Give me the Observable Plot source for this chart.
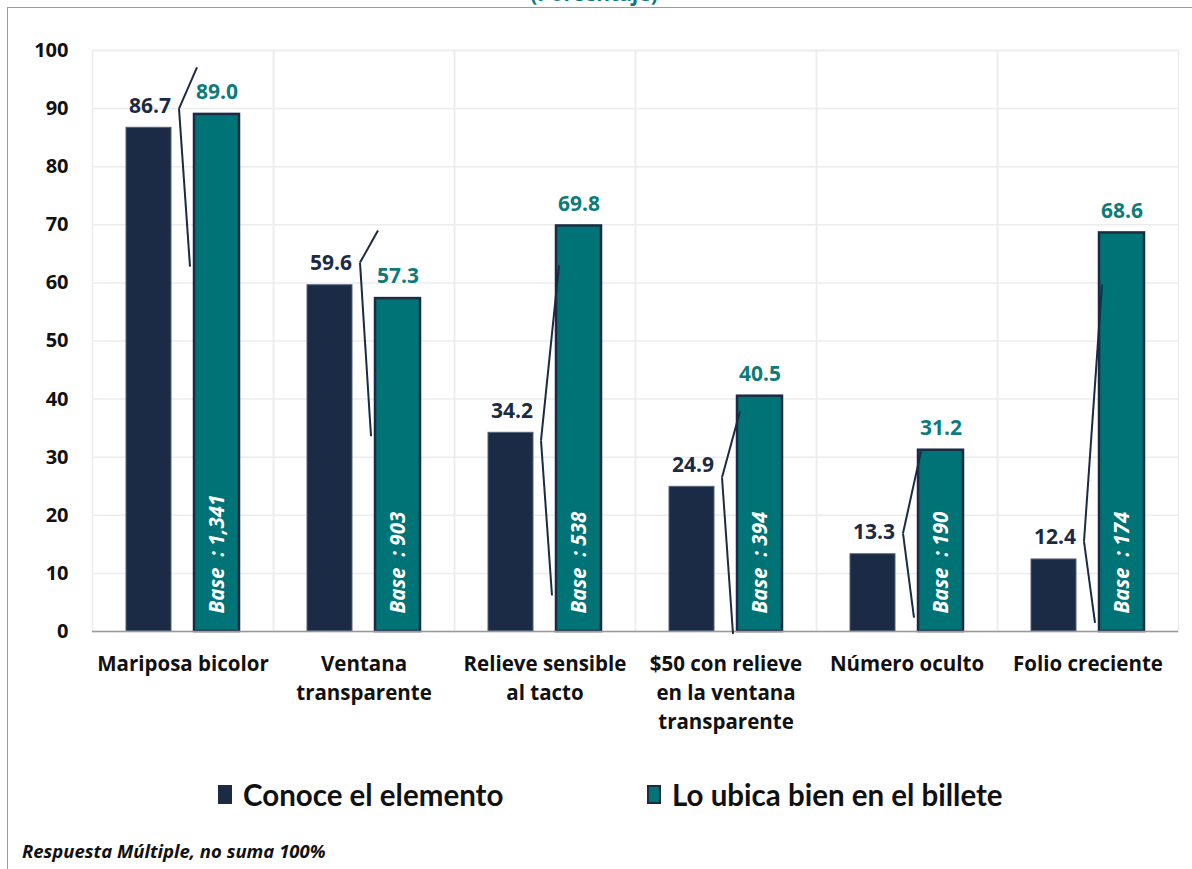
<!DOCTYPE html>
<html>
<head>
<meta charset="utf-8">
<script src="https://cdn.jsdelivr.net/npm/d3@7"></script>
<script src="https://cdn.jsdelivr.net/npm/@observablehq/plot@0.6"></script>
<style>
  html, body { margin: 0; padding: 0; background: #fff; }
  body { width: 1192px; height: 869px; position: relative; overflow: hidden; }
  #frame { position: absolute; left: 7px; top: 7px; width: 1200px; height: 900px; border: 1px solid #9a9a9a; }
  #title { position: absolute; left: 0; width: 1188px; top: -18px; text-align: center;
    font: bold 21px/22px "Open Sans", sans-serif; color: #0e7b7b; }
  #chart { position: absolute; left: 0; top: 0; }
  #legend { position: absolute; left: 0; top: 777px; width: 1192px; height: 40px;
    font: bold 29.5px "Lato", sans-serif; color: #111; }
  .item { position: absolute; top: 0; display: flex; align-items: center; white-space: nowrap; }
  .sw { width: 14px; height: 19px; margin-right: 11px; }
  #caption { position: absolute; left: 22px; top: 838px; font: italic bold 18.5px "Open Sans", sans-serif; color: #111; }
</style>
</head>
<body>
<div id="frame"></div>
<div id="title">(Porcentaje)</div>
<div id="chart"></div>
<div id="legend"></div>
<div id="caption">Respuesta Múltiple, no suma 100%</div>
<script>
const categories = ["Mariposa bicolor", "Ventana\ntransparente", "Relieve sensible\nal tacto", "$50 con relieve\nen la ventana\ntransparente", "Número oculto", "Folio creciente"];
const seriesNames = ["Conoce el elemento", "Lo ubica bien en el billete"];
const conoce = [86.7, 59.6, 34.2, 24.9, 13.3, 12.4];
const ubica = [89.0, 57.3, 69.8, 40.5, 31.2, 68.6];
const bases = ["1,341", "903", "538", "394", "190", "174"];
// leader lines of the "Conoce" labels
const leaderApex = [90.0, 63.5, 32.9, 26.5, 16.9, 15.5];
const leaderTop = [97.1, 69.0, 63.0, 37.9, 31.0, 59.7];
const leaderBottom = [62.8, 33.6, 6.2, -0.4, 2.4, 1.5];
const yTicks = [0, 10, 20, 30, 40, 50, 60, 70, 80, 90, 100];

const navy = "#1b2b45";
const teal = "#007377";
const tealText = "#0e7b7b";

const data = [];
categories.forEach((c, i) => {
  data.push({cat: c, series: seriesNames[0], value: conoce[i], apex: leaderApex[i], top: leaderTop[i], bottom: leaderBottom[i]});
  data.push({cat: c, series: seriesNames[1], value: ubica[i], base: bases[i]});
});
const dC = data.filter(d => d.series === seriesNames[0]);
const dL = data.filter(d => d.series === seriesNames[1]);

function offsetCurve(k) {
  return (context) => {
    let i = 0;
    return {
      areaStart() {}, areaEnd() {},
      lineStart() { i = 0; },
      lineEnd() {},
      point(x, y) { if (i++ === 0) context.moveTo(x, y); else context.lineTo(x + k, y); }
    };
  };
}

const font = "'Open Sans', sans-serif";

const plot = Plot.plot({
  width: 1192,
  height: 740,
  marginTop: 50,
  marginBottom: 109,
  marginLeft: 92,
  marginRight: 14,
  style: {background: "transparent"},
  fx: {domain: categories, paddingInner: 0, paddingOuter: 0, label: null},
  x: {domain: seriesNames, paddingInner: 0.336, paddingOuter: 0.489, axis: null},
  y: {domain: [0, 100], label: null},
  marks: [
    Plot.ruleY(yTicks, {stroke: "#ececec", strokeWidth: 1.5}),
    Plot.frame({stroke: "#ececec", strokeWidth: 1.5}),
    Plot.barY(dC, {fx: "cat", x: "series", y: "value", fill: navy, stroke: "#55637a", strokeWidth: 1}),
    Plot.barY(dL, {fx: "cat", x: "series", y: "value", fill: teal, stroke: navy, strokeWidth: 2.5}),
    Plot.ruleY([0], {stroke: "#9a9a9a", strokeWidth: 1.5}),
    Plot.text(dC, {fx: "cat", x: "series", y: "value", text: d => d.value.toFixed(1), dx: 1, dy: -22, lineAnchor: "middle",
      fill: navy, fontWeight: "bold", fontSize: 21, fontFamily: font}),
    Plot.text(dL, {fx: "cat", x: "series", y: "value", text: d => d.value.toFixed(1), dy: -22, lineAnchor: "middle",
      fill: tealText, fontWeight: "bold", fontSize: 21, fontFamily: font}),
    Plot.text(dL, {fx: "cat", x: "series", y: 0, text: d => `Base\u00a0\u00a0: ${d.base}`, rotate: -90, textAnchor: "start",
      lineAnchor: "middle", dy: -18, fill: "white", fontStyle: "italic", fontWeight: "bold", fontSize: 20.5, fontFamily: font}),
    Plot.link(dC, {fx: "cat", x1: "series", x2: "series", y1: "apex", y2: "top", dx: 30, curve: offsetCurve(18),
      stroke: navy, strokeWidth: 2}),
    Plot.link(dC, {fx: "cat", x1: "series", x2: "series", y1: "apex", y2: "bottom", dx: 30, curve: offsetCurve(11),
      stroke: navy, strokeWidth: 2}),
    Plot.axisY(yTicks, {tickSize: 0, tickPadding: 24, fontSize: 20, fontWeight: "bold", fontFamily: font, fill: "#111", label: null}),
    Plot.axisFx({anchor: "bottom", tickSize: 0, tickPadding: 19, fontSize: 20.5, fontWeight: "bold", fontFamily: font,
      lineHeight: 1.42, fill: "#111", label: null})
  ]
});
document.getElementById("chart").appendChild(plot);

const legend = document.getElementById("legend");
const legendLeft = [218, 647];
[[navy, navy], [teal, navy]].forEach(([fill, stroke], i) => {
  const item = document.createElement("div");
  item.className = "item";
  item.style.left = legendLeft[i] + "px";
  const sw = document.createElement("div");
  sw.className = "sw";
  sw.style.background = fill;
  sw.style.boxShadow = `inset 0 0 0 2px ${stroke}`;
  item.appendChild(sw);
  const t = document.createElement("span");
  t.textContent = seriesNames[i];
  item.appendChild(t);
  legend.appendChild(item);
});
</script>
</body>
</html>
